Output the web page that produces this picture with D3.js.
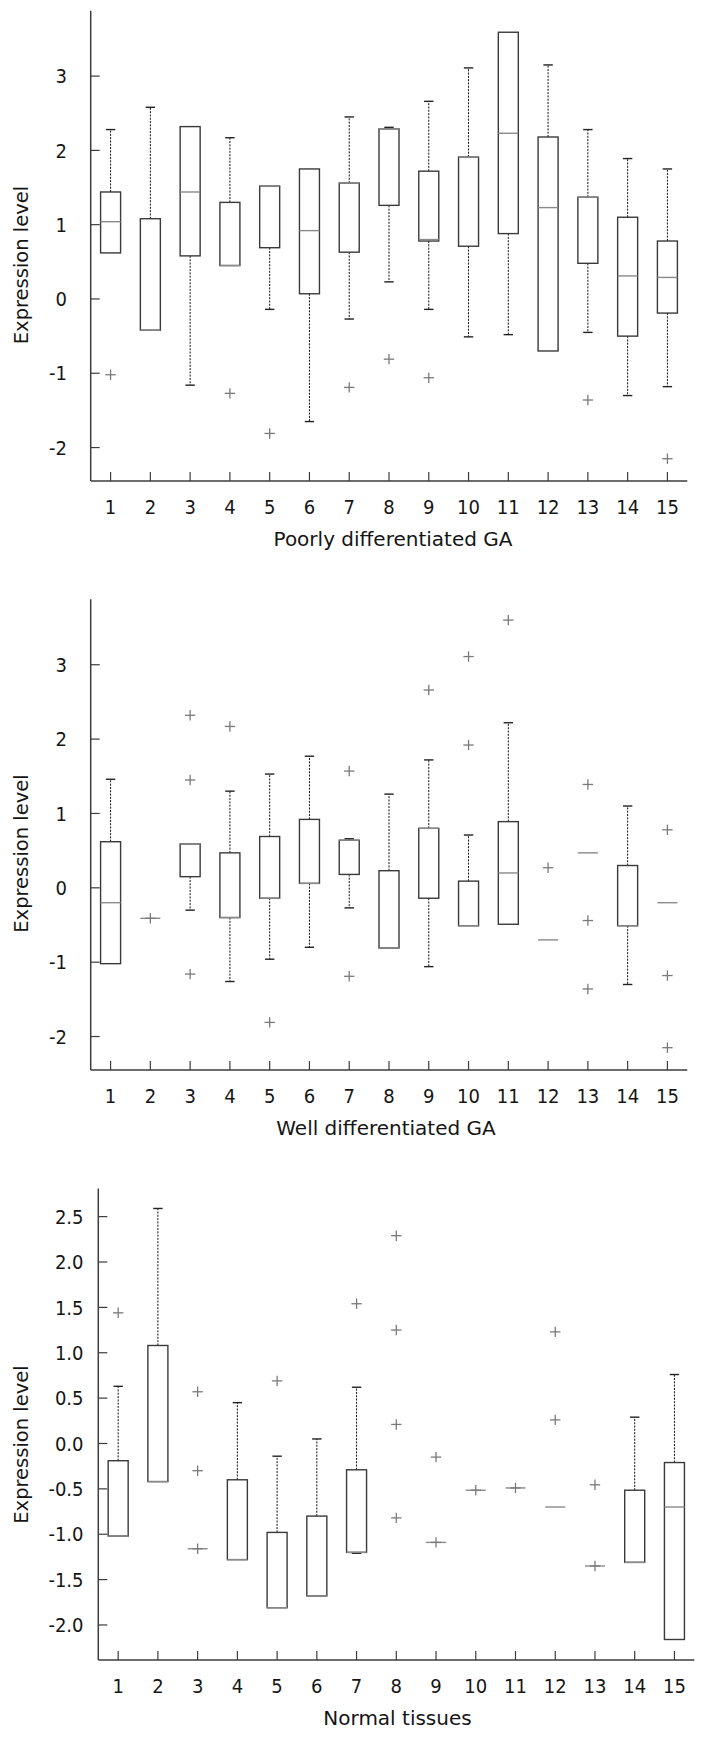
<!DOCTYPE html>
<html>
<head>
<meta charset="utf-8">
<script src="https://cdn.jsdelivr.net/npm/d3@7"></script>
<style>
  html, body { margin: 0; padding: 0; background: #fff; }
  svg { display: block; font-family: "DejaVu Sans", Verdana, sans-serif; }
  .tick { font-family: "DejaVu Sans Condensed", "DejaVu Sans", sans-serif; font-stretch: condensed; }
</style>
</head>
<body>
<svg id="chart" width="709" height="1737"></svg>
<script>
// ---------- DATA ----------
const categories = [1,2,3,4,5,6,7,8,9,10,11,12,13,14,15];

// Poorly differentiated GA
const poorlyQ1  = [0.62,-0.42,0.58,0.45,0.69,0.07,0.63,1.26,0.78,0.71,0.88,-0.70,0.48,-0.50,-0.19];
const poorlyMed = [1.04,-0.42,1.44,0.45,1.52,0.92,1.56,2.29,0.80,1.91,2.23,1.23,1.37,0.31,0.29];
const poorlyQ3  = [1.44,1.08,2.32,1.30,1.52,1.75,1.56,2.29,1.72,1.91,3.59,2.18,1.37,1.10,0.78];
const poorlyLo  = [0.62,-0.42,-1.16,0.45,-0.14,-1.65,-0.27,0.23,-0.14,-0.51,-0.48,-0.70,-0.45,-1.30,-1.18];
const poorlyHi  = [2.28,2.58,2.32,2.17,1.52,1.75,2.45,2.31,2.66,3.11,3.59,3.15,2.28,1.89,1.75];
const poorlyOut = [[-1.02],[],[],[-1.27],[-1.81],[],[-1.19],[-0.81],[-1.06],[],[],[],[-1.36],[],[-2.15]];

// Well differentiated GA
const wellQ1  = [-1.02,-0.41,0.15,-0.40,-0.14,0.06,0.18,-0.81,-0.14,-0.51,-0.49,-0.70,0.47,-0.51,-0.20];
const wellMed = [-0.20,-0.41,0.59,-0.40,-0.14,0.06,0.64,-0.81,0.80,-0.51,0.20,-0.70,0.47,-0.51,-0.20];
const wellQ3  = [0.62,-0.41,0.59,0.47,0.69,0.92,0.64,0.23,0.80,0.09,0.89,-0.70,0.47,0.30,-0.20];
const wellLo  = [-1.02,-0.41,-0.30,-1.26,-0.96,-0.80,-0.27,-0.81,-1.06,-0.51,-0.49,-0.70,0.47,-1.30,-0.20];
const wellHi  = [1.46,-0.41,0.59,1.30,1.53,1.77,0.66,1.26,1.72,0.71,2.22,-0.70,0.47,1.10,-0.20];
const wellOut = [[],[-0.41],[2.32,1.45,-1.16],[2.17],[-1.81],[],[1.57,-1.19],[],[2.66],[3.11,1.92],[3.60],[0.27],[1.39,-0.44,-1.36],[],[0.78,-1.18,-2.15]];

// Normal tissues
const normalQ1  = [-1.02,-0.42,-1.16,-1.28,-1.81,-1.68,-1.20,null,-1.09,-0.515,-0.49,-0.70,-1.35,-1.31,-2.16];
const normalMed = [-1.02,-0.42,-1.16,-1.28,-1.81,-1.68,-1.20,null,-1.09,-0.515,-0.49,-0.70,-1.35,-1.31,-0.70];
const normalQ3  = [-0.19,1.08,-1.16,-0.40,-0.98,-0.80,-0.29,null,-1.09,-0.515,-0.49,-0.70,-1.35,-0.515,-0.21];
const normalLo  = [-1.02,-0.42,-1.16,-1.28,-1.81,-1.68,-1.21,null,-1.09,-0.515,-0.49,-0.70,-1.35,-1.31,-2.16];
const normalHi  = [0.63,2.59,-1.16,0.45,-0.14,0.05,0.62,null,-1.09,-0.515,-0.49,-0.70,-1.35,0.29,0.76];
const normalOut = [[1.44],[],[0.57,-0.30,-1.16],[],[0.69],[],[1.54],[2.29,1.25,0.21,-0.82],[-0.15,-1.09],[-0.515],[-0.49],[1.23,0.26],[-0.455,-1.35],[],[]];

const intTicks = [-2,-1,0,1,2,3];
const intTickLabels = ["-2","-1","0","1","2","3"];
const halfTicks = [-2,-1.5,-1,-0.5,0,0.5,1,1.5,2,2.5];
const halfTickLabels = ["-2.0","-1.5","-1.0","-0.5","0.0","0.5","1.0","1.5","2.0","2.5"];

const yTitle = "Expression level";
const xTitles = ["Poorly differentiated GA","Well differentiated GA","Normal tissues"];

// ---------- LAYOUT ----------
const panels = [
  {q1:poorlyQ1, med:poorlyMed, q3:poorlyQ3, lo:poorlyLo, hi:poorlyHi, out:poorlyOut,
   xr:[90.7,687.3], yr:[481,10.7], yd:[-2.45,3.88], ticks:intTicks, tickLabels:intTickLabels,
   tickRight:67, xTitle:xTitles[0], xTitleX:393, yTitleY:265},
  {q1:wellQ1, med:wellMed, q3:wellQ3, lo:wellLo, hi:wellHi, out:wellOut,
   xr:[90.7,687.3], yr:[1070,599.3], yd:[-2.45,3.88], ticks:intTicks, tickLabels:intTickLabels,
   tickRight:67, xTitle:xTitles[1], xTitleX:386, yTitleY:853.5},
  {q1:normalQ1, med:normalMed, q3:normalQ3, lo:normalLo, hi:normalHi, out:normalOut,
   xr:[98.3,694.3], yr:[1660,1188.5], yd:[-2.386,2.81], ticks:halfTicks, tickLabels:halfTickLabels,
   tickRight:83.5, xTitle:xTitles[2], xTitleX:397.5, yTitleY:1444.5}
];

const svg = d3.select("#chart");
const AXIS = "#3c3c3c", TEXT = "#151515", BOX = "#3a3a3a", MED = "#8a8a8a", OUT = "#7a7a7a";
const boxHalf = 10, capHalf = 4.7, plusHalf = 5.2, tickLen = 9;

panels.forEach(p => {
  const x = d3.scaleLinear().domain([0.5, 15.5]).range(p.xr);
  const y = d3.scaleLinear().domain(p.yd).range(p.yr);
  const g = svg.append("g");
  const x0 = p.xr[0], y0 = p.yr[0];

  // axis lines
  g.append("line").attr("x1", x0).attr("x2", x0).attr("y1", p.yr[1]).attr("y2", y0)
    .attr("stroke", AXIS).attr("stroke-width", 1.5);
  g.append("line").attr("x1", x0).attr("x2", p.xr[1]).attr("y1", y0).attr("y2", y0)
    .attr("stroke", AXIS).attr("stroke-width", 1.5);

  // y ticks (inward) + labels
  p.ticks.forEach((t, i) => {
    g.append("line").attr("x1", x0).attr("x2", x0 + tickLen).attr("y1", y(t)).attr("y2", y(t))
      .attr("stroke", AXIS).attr("stroke-width", 1.2);
    g.append("text").attr("class", "tick").attr("x", p.tickRight).attr("y", y(t)).attr("dy", "0.36em")
      .attr("text-anchor", "end").attr("font-size", 20).attr("fill", TEXT).text(p.tickLabels[i]);
  });

  // x ticks (inward) + labels
  categories.forEach(c => {
    g.append("line").attr("x1", x(c)).attr("x2", x(c)).attr("y1", y0).attr("y2", y0 - tickLen)
      .attr("stroke", AXIS).attr("stroke-width", 1.2);
    g.append("text").attr("class", "tick").attr("x", x(c)).attr("y", y0 + 33).attr("text-anchor", "middle")
      .attr("font-size", 20).attr("fill", TEXT).text(String(c));
  });

  // titles
  g.append("text").attr("x", p.xTitleX).attr("y", y0 + 65).attr("text-anchor", "middle")
    .attr("font-size", 20).attr("fill", TEXT).text(p.xTitle);
  g.append("text").attr("transform", `translate(28,${p.yTitleY}) rotate(-90)`)
    .attr("text-anchor", "middle").attr("font-size", 19.5).attr("fill", TEXT).text(yTitle);

  // boxes
  categories.forEach((c, i) => {
    const cx = x(c);
    if (p.q1[i] !== null) {
      const q1 = p.q1[i], q3 = p.q3[i], lo = p.lo[i], hi = p.hi[i], md = p.med[i];
      if (hi > q3) {
        g.append("line").attr("x1", cx).attr("x2", cx).attr("y1", y(q3)).attr("y2", y(hi))
          .attr("stroke", "#111").attr("stroke-width", 1).attr("stroke-dasharray", "2,1.3");
        g.append("line").attr("x1", cx - capHalf).attr("x2", cx + capHalf).attr("y1", y(hi)).attr("y2", y(hi))
          .attr("stroke", "#222").attr("stroke-width", 1.4);
      }
      if (lo < q1) {
        g.append("line").attr("x1", cx).attr("x2", cx).attr("y1", y(q1)).attr("y2", y(lo))
          .attr("stroke", "#111").attr("stroke-width", 1).attr("stroke-dasharray", "2,1.3");
        g.append("line").attr("x1", cx - capHalf).attr("x2", cx + capHalf).attr("y1", y(lo)).attr("y2", y(lo))
          .attr("stroke", "#222").attr("stroke-width", 1.4);
      }
      if (q3 > q1) {
        g.append("rect").attr("x", cx - boxHalf).attr("y", y(q3)).attr("width", 2 * boxHalf)
          .attr("height", y(q1) - y(q3)).attr("fill", "none").attr("stroke", BOX).attr("stroke-width", 1.4);
      }
      g.append("line").attr("x1", cx - boxHalf).attr("x2", cx + boxHalf).attr("y1", y(md)).attr("y2", y(md))
        .attr("stroke", MED).attr("stroke-width", 1.4);
    }
    p.out[i].forEach(v => {
      g.append("line").attr("x1", cx - plusHalf).attr("x2", cx + plusHalf).attr("y1", y(v)).attr("y2", y(v))
        .attr("stroke", OUT).attr("stroke-width", 1.3);
      g.append("line").attr("x1", cx).attr("x2", cx).attr("y1", y(v) - plusHalf).attr("y2", y(v) + plusHalf)
        .attr("stroke", OUT).attr("stroke-width", 1.3);
    });
  });
});
</script>
</body>
</html>
